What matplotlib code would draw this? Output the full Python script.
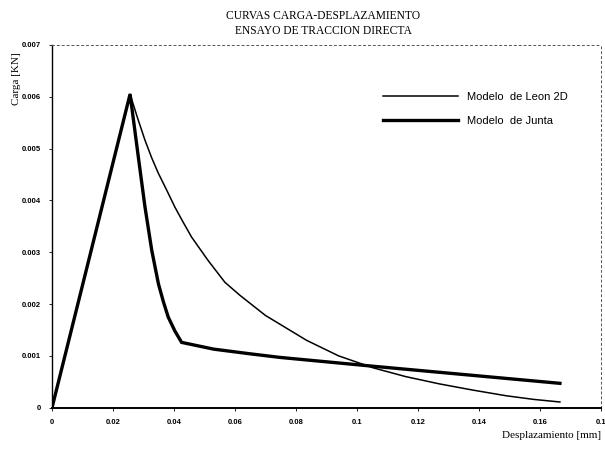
import matplotlib
matplotlib.use("Agg")
import matplotlib.pyplot as plt

# Data
leon_x = [0.0, 0.0256, 0.0280, 0.0305, 0.0327, 0.0349, 0.0376, 0.0403, 0.0430, 0.0458,
          0.0512, 0.0567, 0.0616, 0.0700, 0.0835, 0.0940, 0.1053, 0.1160, 0.1270,
          0.1380, 0.1490, 0.1580, 0.1666]
leon_y = [0.0, 0.00605, 0.00560, 0.00516, 0.00482, 0.00452, 0.00420, 0.00387, 0.00358, 0.00329,
          0.00284, 0.00242, 0.00217, 0.00178, 0.00130, 0.00100, 0.00077, 0.00060, 0.00046,
          0.00034, 0.00023, 0.00016, 0.00011]

junta_x = [0.0, 0.0256, 0.0283, 0.0305, 0.0327, 0.0349, 0.0365, 0.0381, 0.0403, 0.0425,
           0.0530, 0.0649, 0.0748, 0.1053, 0.1666]
junta_y = [0.0, 0.00605, 0.00484, 0.00387, 0.00304, 0.00239, 0.00205, 0.00175, 0.00148, 0.00126,
           0.00113, 0.00104, 0.00097, 0.00080, 0.00047]

x_ticks = [0, 0.02, 0.04, 0.06, 0.08, 0.1, 0.12, 0.14, 0.16, 0.18]
x_tick_labels = ["0", "0.02", "0.04", "0.06", "0.08", "0.1", "0.12", "0.14", "0.16", "0.1"]
y_ticks = [0, 0.001, 0.002, 0.003, 0.004, 0.005, 0.006, 0.007]
y_tick_labels = ["0", "0.001", "0.002", "0.003", "0.004", "0.005", "0.006", "0.007"]

fig = plt.figure(figsize=(6.05, 4.49), dpi=100)
ax = fig.add_axes([0.086, 0.092, 0.907, 0.808])

ax.plot(leon_x, leon_y, color="black", lw=1.1, label="Modelo  de Leon 2D",
        solid_joinstyle="round")
ax.plot(junta_x, junta_y, color="black", lw=2.4, label="Modelo  de Junta",
        solid_joinstyle="miter")

ax.set_xlim(0, 0.18)
ax.set_ylim(0, 0.007)
ax.set_xticks(x_ticks)
ax.set_xticklabels(x_tick_labels)
ax.set_yticks(y_ticks)
ax.set_yticklabels(y_tick_labels)
ax.tick_params(axis="both", labelsize=5.5, length=2, width=0.6, pad=6)
for lab in ax.get_xticklabels() + ax.get_yticklabels():
    lab.set_fontweight("bold")
    lab.set_family("Liberation Sans")

ax.spines["left"].set_linewidth(1.0)
ax.spines["bottom"].set_linewidth(1.4)
for s in ["top", "right"]:
    ax.spines[s].set_linestyle((0, (2, 3)))
    ax.spines[s].set_linewidth(0.7)
    ax.spines[s].set_color("#555555")

fig.text(0.534, 0.964, "CURVAS CARGA-DESPLAZAMIENTO", ha="center", va="center",
         family="Liberation Serif", fontsize=8.3)
fig.text(0.534, 0.930, "ENSAYO DE TRACCION DIRECTA", ha="center", va="center",
         family="Liberation Serif", fontsize=8.3)
fig.text(0.028, 0.826, "Carga [KN]", rotation=90, ha="center", va="center",
         family="Liberation Serif", fontsize=8)
fig.text(0.911, 0.031, "Desplazamiento [mm]", ha="center", va="center",
         family="Liberation Serif", fontsize=8)

leg = ax.legend(loc="upper left", bbox_to_anchor=(0.5946, 0.883), frameon=False,
                prop={"family": "Liberation Sans", "size": 8}, handlelength=6.75,
                handletextpad=0.8, labelspacing=1.3, borderaxespad=0)

fig.savefig("out.png", dpi=100)
